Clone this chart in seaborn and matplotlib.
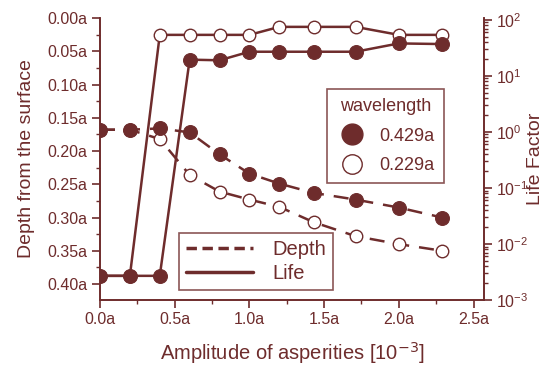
import matplotlib
matplotlib.use("Agg")
import matplotlib.pyplot as plt
import matplotlib.ticker as mticker
from matplotlib.lines import Line2D
import seaborn as sns
import pandas as pd
import numpy as np

sns.set_style("ticks")
plt.rcParams['font.family'] = ['Liberation Sans', 'DejaVu Sans']

C = "#6E2C2C"

amplitude = [0.0, 0.2, 0.4, 0.6, 0.8, 1.0, 1.2, 1.43, 1.71, 2.0, 2.29]
depth_429 = [0.168, 0.168, 0.166, 0.172, 0.205, 0.234, 0.249, 0.263, 0.273, 0.285, 0.300]
depth_229 = [0.168, 0.168, 0.182, 0.236, 0.261, 0.273, 0.284, 0.307, 0.328, 0.340, 0.350]
life_429 = [0.0027, 0.0027, 0.0027, 19.5, 19.0, 27.0, 27.0, 27.0, 27.0, 38.0, 37.0]
life_229 = [0.0027, 0.0027, 54.0, 54.0, 54.0, 54.0, 75.0, 75.0, 75.0, 54.0, 54.0]

xticks = [0.0, 0.5, 1.0, 1.5, 2.0, 2.5]
xticklabels = ["0.0a", "0.5a", "1.0a", "1.5a", "2.0a", "2.5a"]
yticks = [0.00, 0.05, 0.10, 0.15, 0.20, 0.25, 0.30, 0.35, 0.40]
yticklabels = ["0.00a", "0.05a", "0.10a", "0.15a", "0.20a", "0.25a", "0.30a", "0.35a", "0.40a"]

df = pd.DataFrame({"x": amplitude, "d429": depth_429, "d229": depth_229,
                   "l429": life_429, "l229": life_229})

fig = plt.figure(figsize=(5.47, 3.67), dpi=100)
ax = fig.add_axes([100/547, 1-300/367, 384/547, 282/367])
ax2 = ax.twinx()

ms = 10
lw = 1.8
dash = (6, 4)
# Depth lines (left axis)
sns.lineplot(data=df, x="x", y="d229", ax=ax, color=C, lw=lw, marker="o", markersize=ms - 1,
             markerfacecolor="white", markeredgecolor=C, markeredgewidth=1.0,
             linestyle=(0, dash), zorder=3)
sns.lineplot(data=df, x="x", y="d429", ax=ax, color=C, lw=lw, marker="o", markersize=ms,
             markerfacecolor=C, markeredgecolor=C, linestyle=(0, dash), zorder=4)
# Life lines (right axis)
sns.lineplot(data=df, x="x", y="l229", ax=ax2, color=C, lw=lw, marker="o", markersize=ms - 1,
             markerfacecolor="white", markeredgecolor=C, markeredgewidth=1.0, zorder=3)
sns.lineplot(data=df, x="x", y="l429", ax=ax2, color=C, lw=lw, marker="o", markersize=ms,
             markerfacecolor=C, markeredgecolor=C, zorder=4)

ax.set_xlim(0, 2.57)
ax.set_ylim(0.424, 0.0)
ax2.set_yscale("log")
ax2.set_ylim(1e-3, 1.08e2)

ax.set_xticks(xticks)
ax.set_xticklabels(xticklabels)
ax.xaxis.set_minor_locator(mticker.MultipleLocator(0.25))
ax.set_yticks(yticks)
ax.set_yticklabels(yticklabels)
ax.yaxis.set_minor_locator(mticker.MultipleLocator(0.025))

ax2.yaxis.set_major_locator(mticker.LogLocator(base=10, numticks=10))
ax2.yaxis.set_minor_locator(mticker.LogLocator(base=10, subs=np.arange(2, 10), numticks=10))
ax2.yaxis.set_minor_formatter(mticker.NullFormatter())

for a in (ax, ax2):
    for s in a.spines.values():
        s.set_color(C)
        s.set_linewidth(1.2)
    a.tick_params(which="major", direction="out", length=6, width=1.2, color=C,
                  labelcolor=C, labelsize=11.5, pad=3)
    a.tick_params(which="minor", direction="out", length=3, width=1.0, color=C)
ax.spines["top"].set_visible(False)
ax2.spines["top"].set_visible(False)

ax.set_xlabel("Amplitude of asperities [10$^{-3}$]", color=C, fontsize=14.5)
ax.xaxis.set_label_coords(0.5, -(353 - 300) / 282)
ax.xaxis.label.set_va("center")
ax.set_ylabel("Depth from the surface", color=C, fontsize=14)
ax.yaxis.set_label_coords(-(100 - 35) / 384, 0.5)
ax2.set_ylabel("Life Factor", color=C, fontsize=14)
ax2.yaxis.set_label_coords((527 - 100) / 384, 0.5)

ax.grid(False)
ax2.grid(False)

# Legend 1: line styles
h1 = [Line2D([], [], color=C, lw=2.5, linestyle=(0, (3, 1.6))),
      Line2D([], [], color=C, lw=2.5)]
leg1 = ax2.legend(h1, ["Depth", "Life"], loc="upper left",
                  bbox_to_anchor=((179-100)/384, 1-(233-18)/282), frameon=True,
                  fancybox=False, edgecolor=C, fontsize=14.5, labelcolor=C,
                  handlelength=3.3, borderpad=0.35, labelspacing=0.25, handletextpad=1.0,
                  borderaxespad=0)
leg1.get_frame().set_linewidth(1.2)
ax2.add_artist(leg1)

# Legend 2: wavelength markers
h2 = [Line2D([], [], color=C, lw=0, marker="o", markersize=15, markerfacecolor=C),
      Line2D([], [], color=C, lw=0, marker="o", markersize=14, markerfacecolor="white",
             markeredgewidth=1.0)]
leg2 = ax2.legend(h2, ["0.429a", "0.229a"], title="wavelength", loc="upper left",
                  bbox_to_anchor=((327-100)/384, 1-(89-18)/282), frameon=True,
                  fancybox=False, edgecolor=C, fontsize=13, labelcolor=C,
                  title_fontsize=13, handlelength=1.8, borderpad=0.5,
                  labelspacing=0.7, handletextpad=0.6, borderaxespad=0)
leg2.get_title().set_color(C)
leg2.get_frame().set_linewidth(1.2)

fig.savefig("out.png", dpi=100)
